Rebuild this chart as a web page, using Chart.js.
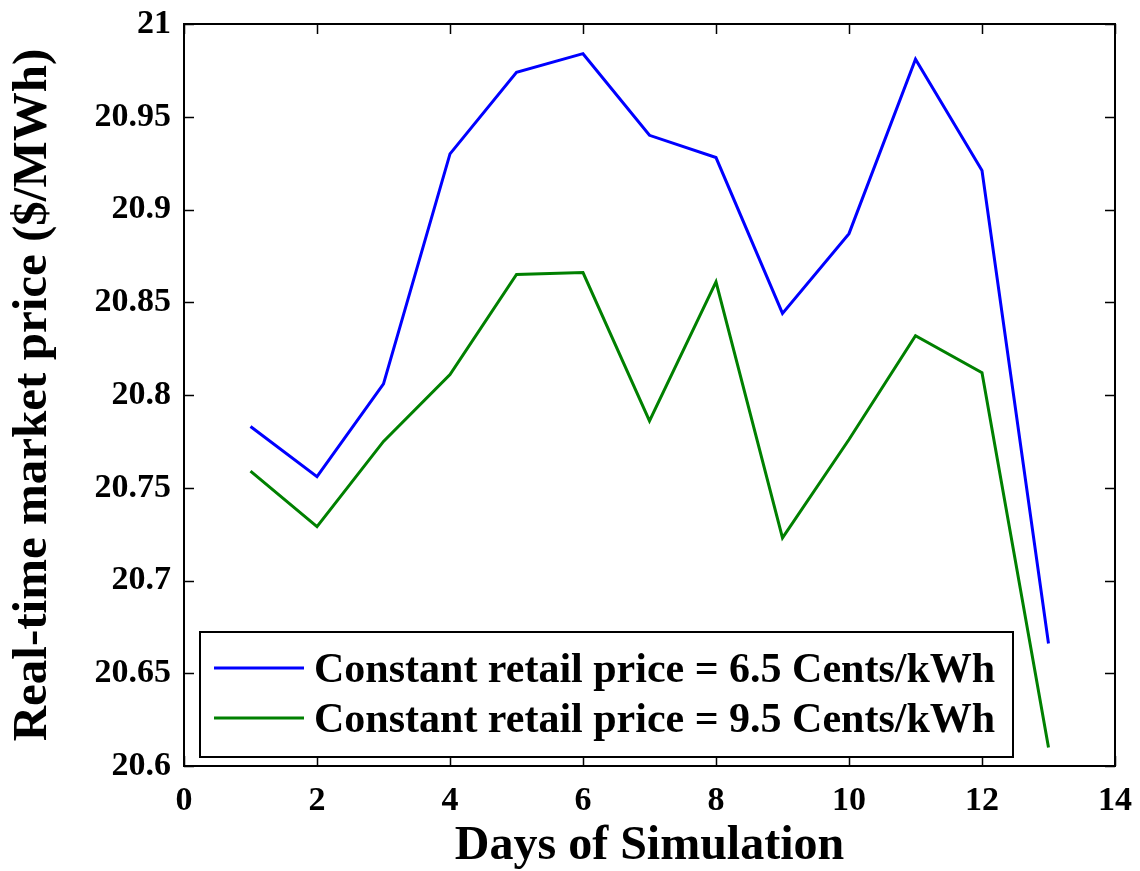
<!DOCTYPE html>
<html>
<head>
<meta charset="utf-8">
<script src="https://cdn.jsdelivr.net/npm/chart.js@4.4.0/dist/chart.umd.min.js"></script>
<style>
  html, body { margin: 0; padding: 0; background: #fff; }
  #wrap { width: 1140px; height: 871px; }
</style>
</head>
<body>
<div id="wrap"><canvas id="chart"></canvas></div>
<script>
const days = [1, 2, 3, 4, 5, 6, 7, 8, 9, 10, 11, 12, 13];
const price65 = [20.783, 20.756, 20.806, 20.930, 20.974, 20.984, 20.940, 20.928, 20.844, 20.887, 20.981, 20.921, 20.666];
const price95 = [20.759, 20.729, 20.775, 20.811, 20.865, 20.866, 20.786, 20.861, 20.723, 20.776, 20.832, 20.812, 20.610];
const xTicks = [0, 2, 4, 6, 8, 10, 12, 14];
const yTicks = [20.6, 20.65, 20.7, 20.75, 20.8, 20.85, 20.9, 20.95, 21];
const seriesLabels = ['Constant retail price = 6.5 Cents/kWh', 'Constant retail price = 9.5 Cents/kWh'];

const serif = "'Liberation Serif', 'Times New Roman', serif";

const toPoints = vals => vals.map((v, i) => ({ x: days[i], y: v }));

// box around the axes with inward tick marks on all four sides
const frame = {
  id: 'frame',
  afterDatasetsDraw(chart) {
    const { ctx, chartArea: a, scales } = chart;
    const len = 10;
    ctx.save();
    ctx.strokeStyle = '#000';
    ctx.lineWidth = 2;
    ctx.strokeRect(a.left, a.top, a.right - a.left, a.bottom - a.top);
    ctx.beginPath();
    xTicks.forEach(t => {
      const x = Math.round(scales.x.getPixelForValue(t)) + 0.5;
      ctx.moveTo(x, a.bottom); ctx.lineTo(x, a.bottom - len);
      ctx.moveTo(x, a.top); ctx.lineTo(x, a.top + len);
    });
    yTicks.forEach(t => {
      const y = Math.round(scales.y.getPixelForValue(t)) + 0.5;
      ctx.moveTo(a.left, y); ctx.lineTo(a.left + len, y);
      ctx.moveTo(a.right, y); ctx.lineTo(a.right - len, y);
    });
    ctx.lineWidth = 1.5;
    ctx.stroke();
    ctx.restore();
  }
};

// legend box in the lower left corner of the plot
const boxLegend = {
  id: 'boxLegend',
  afterDraw(chart) {
    const { ctx, chartArea: a } = chart;
    const left = a.left + 16, bottom = a.bottom - 9;
    const w = 813, h = 125;
    const top = bottom - h;
    ctx.save();
    ctx.fillStyle = '#fff';
    ctx.fillRect(left, top, w, h);
    ctx.strokeStyle = '#000';
    ctx.lineWidth = 2;
    ctx.strokeRect(left, top, w, h);
    ctx.font = 'bold 42px ' + serif;
    ctx.textBaseline = 'middle';
    chart.data.datasets.forEach((ds, i) => {
      const y = top + 36 + i * 50;
      ctx.strokeStyle = ds.borderColor;
      ctx.lineWidth = 3;
      ctx.beginPath();
      ctx.moveTo(left + 14, y);
      ctx.lineTo(left + 104, y);
      ctx.stroke();
      ctx.fillStyle = '#000';
      ctx.fillText(ds.label, left + 114, y + 3);
    });
    ctx.restore();
  }
};

new Chart(document.getElementById('chart'), {
  type: 'line',
  data: {
    datasets: [
      {
        label: seriesLabels[0],
        data: toPoints(price65),
        borderColor: '#0000ff',
        borderWidth: 3,
        pointRadius: 0,
        tension: 0,
        fill: false
      },
      {
        label: seriesLabels[1],
        data: toPoints(price95),
        borderColor: '#008000',
        borderWidth: 3,
        pointRadius: 0,
        tension: 0,
        fill: false
      }
    ]
  },
  options: {
    responsive: true,
    maintainAspectRatio: false,
    animation: false,
    layout: { padding: { top: 24, right: 25, left: 0, bottom: 0 } },
    plugins: {
      legend: { display: false },
      tooltip: { enabled: false }
    },
    scales: {
      x: {
        type: 'linear',
        min: 0,
        max: 14,
        afterBuildTicks: s => { s.ticks = xTicks.map(v => ({ value: v })); },
        afterFit: s => { s.height = 105; s.paddingLeft = 0; s.paddingRight = 0; },
        grid: { display: false, drawTicks: false },
        border: { display: false },
        ticks: {
          padding: 15,
          color: '#000',
          font: { family: serif, size: 34, weight: 'bold' }
        },
        title: {
          display: true,
          text: 'Days of Simulation',
          color: '#000',
          padding: { top: 0, bottom: 0 },
          font: { family: serif, size: 48, weight: 'bold', lineHeight: 1.0 }
        }
      },
      y: {
        min: 20.6,
        max: 21,
        afterBuildTicks: s => { s.ticks = yTicks.map(v => ({ value: v })); },
        afterFit: s => { s.width = 184; s.paddingTop = 0; s.paddingBottom = 0; },
        grid: { display: false, drawTicks: false },
        border: { display: false },
        ticks: {
          padding: 13,
          color: '#000',
          callback: v => String(+v.toFixed(2)),
          font: { family: serif, size: 34, weight: 'bold' }
        },
        title: {
          display: true,
          text: 'Real-time market price ($/MWh)',
          color: '#000',
          padding: { top: 4, bottom: 0 },
          font: { family: serif, size: 49, weight: 'bold' }
        }
      }
    }
  },
  plugins: [frame, boxLegend]
});
</script>
</body>
</html>
